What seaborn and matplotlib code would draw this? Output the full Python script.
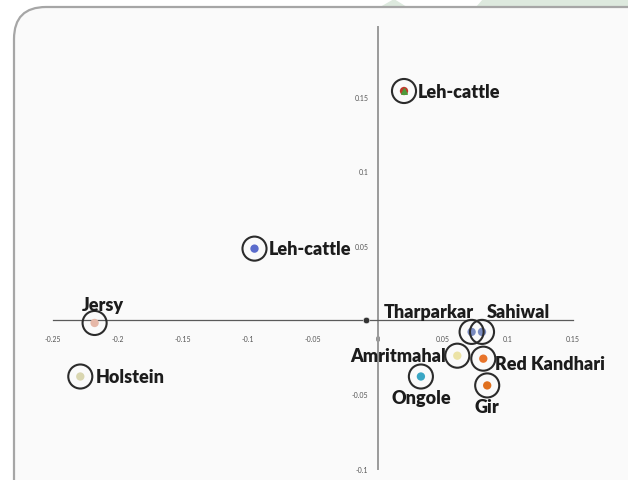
import matplotlib
matplotlib.use("Agg")
import matplotlib.pyplot as plt
from matplotlib.patches import FancyBboxPatch, Polygon
import seaborn as sns
import pandas as pd

# Principal coordinate scores for each cattle breed
breeds = ['Leh-cattle', 'Leh-cattle', 'Jersy', 'Holstein', 'Tharparkar', 'Sahiwal',
          'Amritmahal', 'Red Kandhari', 'Ongole', 'Gir']
pc1 = [0.020, -0.095, -0.218, -0.229, 0.072, 0.080, 0.061, 0.081, 0.033, 0.084]
pc2 = [0.154, 0.048, -0.002, -0.038, -0.008, -0.008, -0.024, -0.026, -0.038, -0.044]
marker_colors = ['#c0392b', '#5b6ccc', '#e6b8a8', '#d9d6b0', '#7a8bbf', '#7a8bbf',
                 '#ece3a6', '#e8742a', '#3aa6c4', '#e0701e']

# small reference point near the origin
ref_x = [-0.009]
ref_y = [0.0]

xticks = [-0.25, -0.2, -0.15, -0.1, -0.05, 0, 0.05, 0.1, 0.15]
xtick_labels = ['-0.25', '-0.2', '-0.15', '-0.1', '-0.05', '0', '0.05', '0.1', '0.15']
yticks = [-0.1, -0.05, 0.05, 0.1, 0.15]
ytick_labels = ['-0.1', '-0.05', '0.05', '0.1', '0.15']

df = pd.DataFrame({'breed': breeds, 'pc1': pc1, 'pc2': pc2,
                   'key': [f'{b}{i}' for i, b in enumerate(breeds)]})

sns.set_style('white')
plt.rcParams['font.family'] = ['Lato', 'DejaVu Sans']

W, H = 628, 481
fig = plt.figure(figsize=(W / 100, H / 100), dpi=100)
fig.patch.set_facecolor('white')

# light green page decoration along the top
green = '#dde9de'
fig.add_artist(Polygon([(380, H - 8), (394, H), (407, H - 8)], closed=True,
                       transform=None, facecolor=green, edgecolor='none', zorder=0))
fig.add_artist(Polygon([(476, H - 8), (483, H), (W + 5, H), (W + 5, H - 8)], closed=True,
                       transform=None, facecolor=green, edgecolor='none', zorder=0))

# rounded panel
panel = FancyBboxPatch((14, -40), 700, H - 8 + 40,
                       boxstyle='round,pad=0,rounding_size=32', transform=None,
                       facecolor='#fafafa', edgecolor='#a6a6a6', linewidth=1.6, zorder=1)
fig.add_artist(panel)

ax = fig.add_axes([0, 0, 1, 1])
ax.patch.set_alpha(0)
ax.set_zorder(2)

# coloured breed markers
palette = dict(zip(df['key'], marker_colors))
sns.scatterplot(data=df, x='pc1', y='pc2', hue='key', palette=palette, marker='o',
                s=36, edgecolor='none', legend=False, ax=ax, zorder=4)
# outline circles around each breed
sns.scatterplot(data=df, x='pc1', y='pc2', s=300, facecolor='none', edgecolor='#2b2b2b',
                linewidth=1.5, legend=False, ax=ax, zorder=5)
# green cap on the upper Leh-cattle symbol
ax.scatter(df['pc1'][:1], df['pc2'][:1], s=16, marker='^', color='#4f9a3c',
           zorder=4.5)
sns.scatterplot(x=ref_x, y=ref_y, color='#333333', s=22, legend=False, ax=ax, zorder=5)

ax.set_xlim(-378 / 1300, 250 / 1300)
ax.set_ylim(-160 / 1487, 321 / 1487)
ax.set_xlabel('')
ax.set_ylabel('')

for s in ['top', 'right']:
    ax.spines[s].set_visible(False)
ax.spines['left'].set_position(('data', 0))
ax.spines['bottom'].set_position(('data', 0))
ax.spines['left'].set_bounds(-0.1, 0.197)
ax.spines['bottom'].set_bounds(-0.25, 0.15)
ax.spines['left'].set_color('#9a9a9a')
ax.spines['left'].set_linewidth(1.4)
ax.spines['bottom'].set_color('#5a5a5a')
ax.spines['bottom'].set_linewidth(0.9)

ax.set_xticks(xticks)
ax.set_xticklabels(xtick_labels)
ax.set_yticks(yticks)
ax.set_yticklabels(ytick_labels)
ax.tick_params(axis='x', direction='inout', length=4, width=0.8, color='#777777',
               labelsize=5, labelcolor='#555555', pad=9)
ax.tick_params(axis='y', direction='inout', length=4, width=0.8, color='#999999',
               labelsize=5, labelcolor='#555555', pad=5)

# breed labels: (dx, dy) in points, horizontal alignment
label_place = [((10, 0), 'left'), ((10, 0), 'left'), ((6, 13), 'center'),
               ((11, 0), 'left'), ((1.5, 15), 'right'), ((3.5, 15), 'left'),
               ((-8.5, 0), 'right'), ((8.5, -3.5), 'left'), ((0, -15), 'center'),
               ((0, -15), 'center')]
for name, x, y, ((dx, dy), ha) in zip(breeds, pc1, pc2, label_place):
    ax.annotate(name, (x, y), xytext=(dx, dy), textcoords='offset points',
                ha=ha, va='center', fontsize=13, fontweight='heavy',
                color='#1c1c1c', zorder=6)

fig.savefig('out.png', dpi=100, facecolor='white')
